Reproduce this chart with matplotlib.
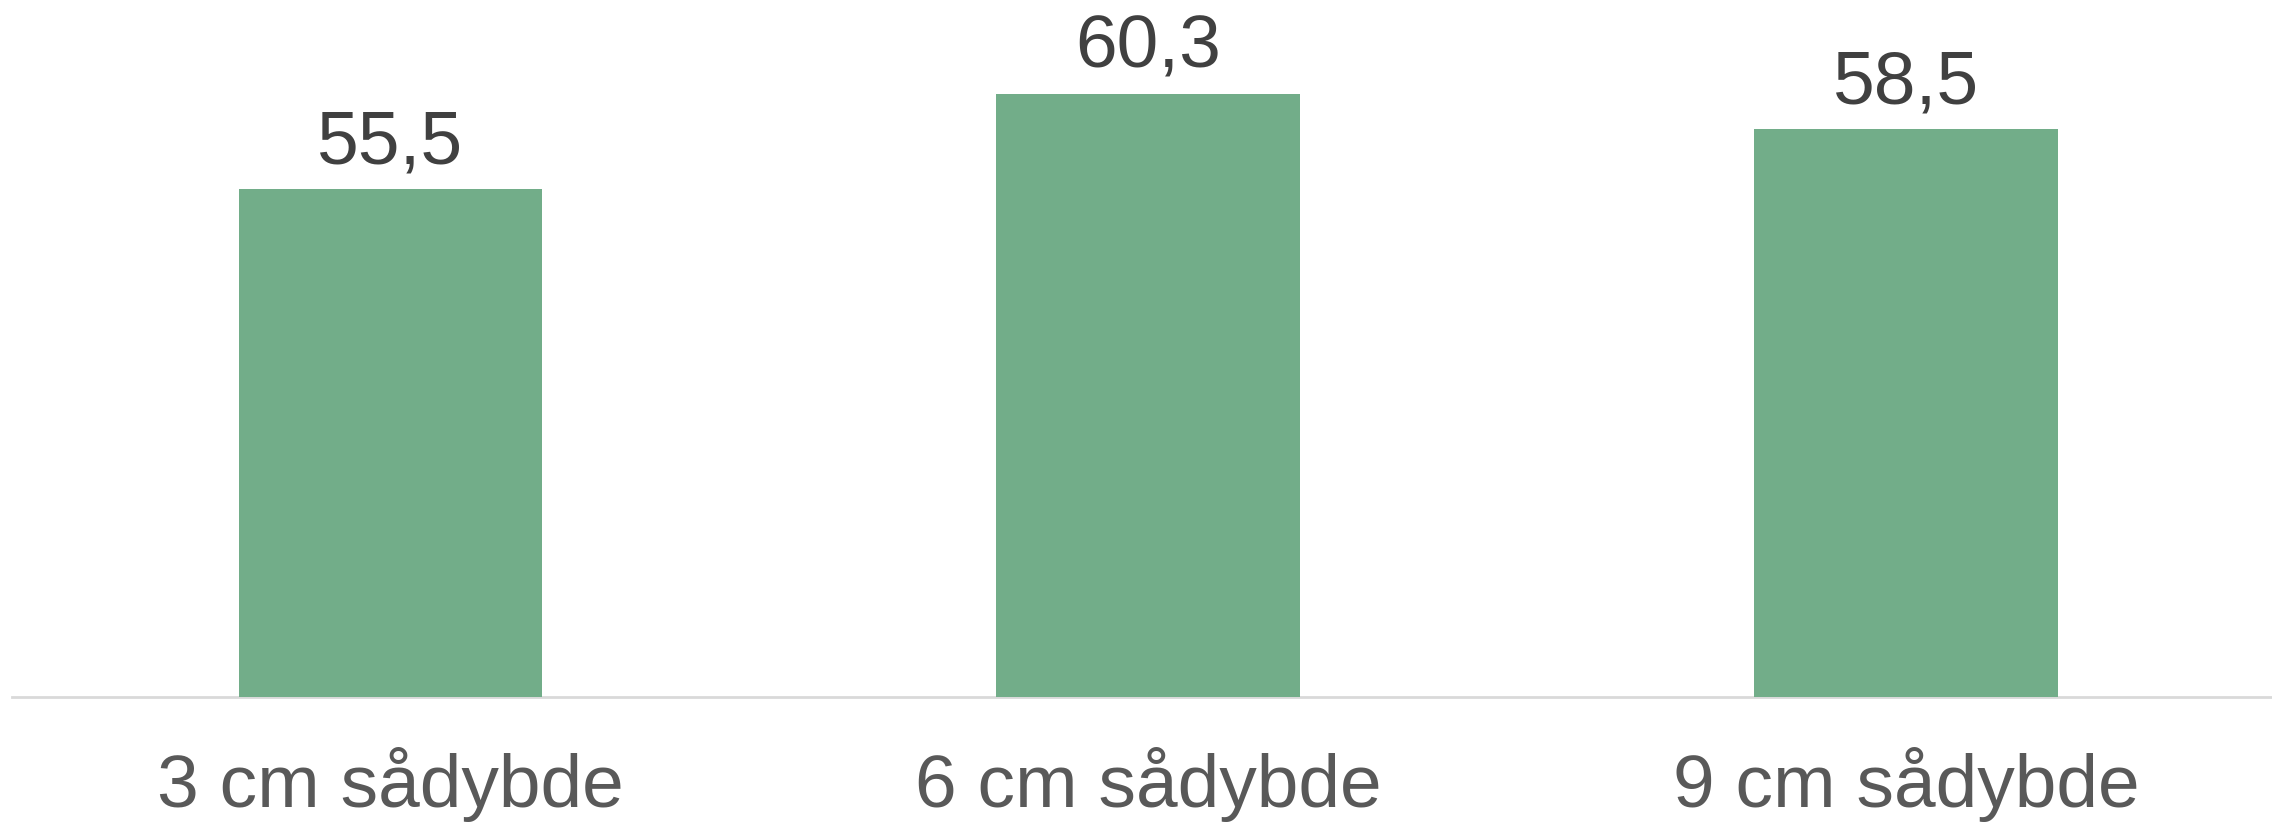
import matplotlib.pyplot as plt

# data
categories = ['3 cm sådybde', '6 cm sådybde', '9 cm sådybde']
values = [55.5, 60.3, 58.5]
value_labels = ['55,5', '60,3', '58,5']

plt.rcParams['font.family'] = ['Liberation Sans', 'DejaVu Sans']

fig = plt.figure(figsize=(22.72, 8.23), dpi=100)
# axes: left at 12 px, baseline at 697 px from top, top at figure top
ax = fig.add_axes([12 / 2272, (823 - 697) / 823, 1 - 12 / 2272, 697 / 823])

x = range(len(categories))
bars = ax.bar(x, values, width=0.4, color='#72AD89', zorder=2)

ax.set_xlim(-0.499, 2.483)
ax.set_ylim(30, 65)

for b, lab in zip(bars, value_labels):
    ax.annotate(lab, (b.get_x() + b.get_width() / 2, b.get_height()),
                xytext=(0, 18.5), textcoords='offset points',
                ha='center', va='baseline', fontsize=54, color='#404040')

ax.set_xticks(list(x))
ax.set_xticklabels(categories, fontsize=54, color='#595959')
ax.tick_params(axis='x', length=0, pad=36)
ax.set_yticks([])

for s in ['top', 'right', 'left']:
    ax.spines[s].set_visible(False)
ax.spines['bottom'].set_color('#D9D9D9')
ax.spines['bottom'].set_linewidth(2)
ax.spines['bottom'].set_zorder(1)

fig.savefig('out.png', dpi=100)
